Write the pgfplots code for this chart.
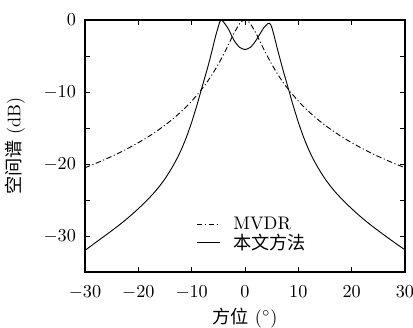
\documentclass[border=0pt]{standalone}
\usepackage{fontspec}
\usepackage{pgfplots}
\pgfplotsset{compat=1.18}
\newfontfamily\cjk{Noto Sans CJK SC}
\begin{document}
\begin{tikzpicture}[x=1pt,y=1pt]
\useasboundingbox (0,0) rectangle (227.15,179.85);
\begin{axis}[
  at={(46.75pt,30.25pt)}, anchor=south west,
  width=176pt, height=138.6pt, scale only axis,
  xmin=-30, xmax=30, ymin=-35, ymax=0,
  xtick={-30,-20,...,30}, ytick={-30,-20,-10,0},
  minor ytick={-25,-15,-5},
  tick align=inside, major tick length=2.8pt, minor tick length=2.8pt,
  tick style={black, line width=0.5pt},
  axis line style={line width=0.6pt},
  xticklabel style={yshift=-4pt},
  yticklabel style={xshift=-1.5pt},
  xlabel={{\cjk 方位} $(^\circ)$},
  ylabel={{\cjk 空间谱} (dB)},
  every axis x label/.style={at={(axis description cs:0.5,-0.183)}, anchor=center},
  every axis y label/.style={at={(axis description cs:-0.219,0.5)}, rotate=90, anchor=center},
  legend style={at={(axis description cs:0.33,0.05)}, anchor=south west, draw=none, fill=none, row sep=-3pt, column sep=5pt},
  legend cell align=left,
  legend image code/.code={\draw[#1] (0cm,0cm) -- (0.45cm,0cm);},
]
\addplot[black, line width=0.5pt, dash pattern=on 3pt off 1.4pt on 0.6pt off 1.4pt, smooth, tension=0.4] coordinates {
(-30,-20.52) (-28,-19.92) (-26,-19.28) (-24,-18.60) (-22,-17.85) (-20,-17.04) (-18,-16.15) (-16,-15.15) (-14,-14.03) (-12,-12.75) (-10,-11.27) (-8,-9.51) (-7,-8.50) (-6,-7.37) (-5,-6.13) (-4,-4.75) (-3,-3.26) (-2,-1.75) (-1,-0.51) (-0.5,-0.13) (0,0)
(0.5,-0.13) (1,-0.51) (2,-1.75) (3,-3.26) (4,-4.75) (5,-6.13) (6,-7.37) (7,-8.50) (8,-9.51) (10,-11.27) (12,-12.75) (14,-14.03) (16,-15.15) (18,-16.15) (20,-17.04) (22,-17.85) (24,-18.60) (26,-19.28) (28,-19.92) (30,-20.52)
};
\addlegendentry{MVDR}
\addplot[black, line width=0.5pt, smooth, tension=0.4] coordinates {
(-30,-32.0) (-29,-31.45) (-28,-30.9) (-27,-30.36) (-26,-29.82) (-25,-29.27) (-24,-28.71) (-23,-28.13) (-22,-27.52) (-21,-26.88) (-20,-26.2) (-19,-25.5) (-18,-24.75) (-17,-23.95) (-16,-23.05) (-15,-22.05) (-14,-20.9) (-13,-19.6) (-12,-18.1) (-11,-16.3) (-10,-14.2) (-9,-11.8) (-8.5,-10.5) (-8,-9.2) (-7.5,-7.9) (-7,-6.6) (-6.5,-5.2) (-6,-3.7) (-5.5,-2.2) (-5,-0.9) (-4.75,-0.3) (-4.5,0) (-4.25,-0.1) (-4,-0.3) (-3.5,-0.8) (-3,-1.4) (-2.5,-2.2) (-2,-2.9) (-1.5,-3.4) (-1,-3.8) (-0.5,-4.0) (0,-4.1)
(0.5,-4.0) (1,-3.8) (1.5,-3.4) (2,-2.9) (2.5,-2.3) (3,-1.7) (3.5,-1.1) (4,-0.7) (4.3,-0.5) (4.6,-0.45) (4.85,-0.7) (5.1,-1.2) (5.5,-2.3) (6,-3.8) (6.5,-5.2) (7,-6.6) (7.5,-7.9) (8,-9.2) (8.5,-10.5) (9,-11.8) (10,-14.2) (11,-16.3) (12,-18.1) (13,-19.6) (14,-20.9) (15,-22.05) (16,-23.05) (17,-23.95) (18,-24.75) (19,-25.5) (20,-26.2) (21,-26.88) (22,-27.52) (23,-28.13) (24,-28.71) (25,-29.27) (26,-29.82) (27,-30.36) (28,-30.89) (29,-31.41) (30,-31.92)
};
\addlegendentry{{\cjk 本文方法}}
\end{axis}
\end{tikzpicture}
\end{document}
